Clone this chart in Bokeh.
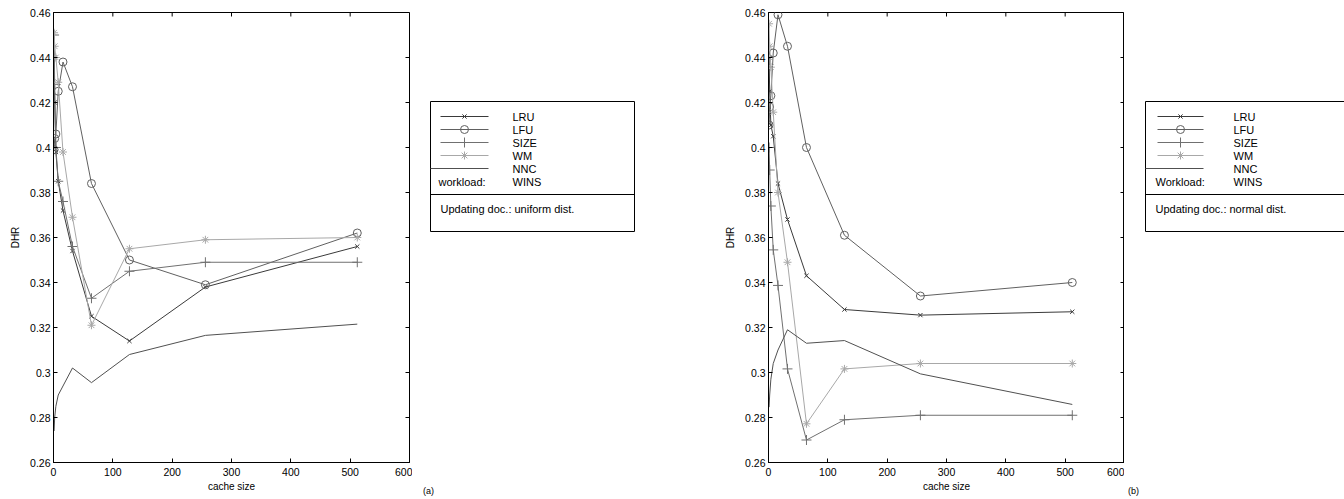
import math
from bokeh.plotting import figure
from bokeh.layouts import row
from bokeh.models import Range1d, FixedTicker, ColumnDataSource
from bokeh.core.properties import value
from bokeh.embed import file_html
from bokeh.resources import INLINE

# ---------------- data ----------------
cache_size = [1, 2, 4, 8, 16, 32, 64, 128, 256, 512]

lru_a = [0.440, 0.420, 0.398, 0.385, 0.372, 0.354, 0.325, 0.314, 0.338, 0.356]
lfu_a = [0.399, 0.404, 0.406, 0.425, 0.438, 0.427, 0.384, 0.350, 0.339, 0.362]
size_a = [0.450, 0.428, 0.400, 0.385, 0.376, 0.356, 0.333, 0.345, 0.349, 0.349]
wm_a = [0.451, 0.445, 0.440, 0.429, 0.398, 0.369, 0.321, 0.355, 0.359, 0.360]
nnc_a = [0.274, 0.280, 0.285, 0.290, 0.294, 0.302, 0.2955, 0.308, 0.3165, 0.3215]

lru_b = [0.440, 0.425, 0.410, 0.405, 0.384, 0.368, 0.343, 0.328, 0.3255, 0.327]
lfu_b = [0.410, 0.418, 0.423, 0.442, 0.459, 0.445, 0.400, 0.361, 0.334, 0.340]
size_b = [0.400, 0.390, 0.374, 0.3545, 0.3387, 0.3016, 0.270, 0.279, 0.281, 0.281]
wm_b = [0.455, 0.445, 0.4357, 0.4157, 0.380, 0.349, 0.2772, 0.3016, 0.304, 0.304]
nnc_b = [0.2846, 0.290, 0.297, 0.304, 0.310, 0.319, 0.313, 0.3142, 0.2994, 0.2858]

x_ticks = [0, 100, 200, 300, 400, 500, 600]
y_ticks = [0.26, 0.28, 0.30, 0.32, 0.34, 0.36, 0.38, 0.40, 0.42, 0.44, 0.46]
y_tick_labels = ["0.26", "0.28", "0.3", "0.32", "0.34", "0.36", "0.38", "0.4", "0.42", "0.44", "0.46"]

series_names = ["LRU", "LFU", "SIZE", "WM", "NNC"]
series_colors = ["#3a3a3a", "#606060", "#707070", "#a8a8a8", "#505050"]
series_markers = ["x", "circle", "cross", "asterisk", None]
marker_sizes = [6, 8, 10, 8, 0]

FONT = value("Liberation Sans")


def make_plot(series, border_right):
    p = figure(width=53 + 356 + border_right, height=499,
               frame_width=356, frame_height=450, title=None,
               min_border_left=53, min_border_right=border_right,
               min_border_top=12, min_border_bottom=37,
               x_range=Range1d(0, 600), y_range=Range1d(0.26, 0.46),
               output_backend="svg", toolbar_location=None)
    p.xgrid.visible = False
    p.ygrid.visible = False
    p.outline_line_color = "black"
    p.background_fill_color = "white"
    p.border_fill_color = "white"

    for ax in [p.xaxis[0], p.yaxis[0]]:
        ax.major_tick_in = 4
        ax.major_tick_out = 0
        ax.minor_tick_line_color = None
        ax.axis_line_color = "black"
        ax.major_tick_line_color = "black"
        ax.major_label_text_font = "Liberation Sans"
        ax.major_label_text_font_size = "10.5px"
        ax.major_label_text_color = "black"
        ax.axis_label_text_font = "Liberation Sans"
        ax.axis_label_text_font_size = "10px"
        ax.axis_label_text_font_style = "normal"
        ax.axis_label_text_color = "black"
    p.xaxis[0].ticker = FixedTicker(ticks=x_ticks)
    p.yaxis[0].ticker = FixedTicker(ticks=y_ticks)
    p.yaxis[0].major_label_overrides = {t: l for t, l in zip(y_ticks, y_tick_labels)}
    p.xaxis[0].axis_label = "cache size"
    p.yaxis[0].axis_label = "DHR"
    p.xaxis[0].major_label_standoff = 5
    p.xaxis[0].axis_label_standoff = 2
    p.yaxis[0].major_label_standoff = 3
    p.yaxis[0].axis_label_standoff = 6

    # box ticks on top and right edges (inward)
    p.ray(x=x_ticks, y=[0.46] * len(x_ticks), length=4, length_units="screen",
          angle=-math.pi / 2, line_color="black", line_width=1)
    p.ray(x=[600] * len(y_ticks), y=y_ticks, length=4, length_units="screen",
          angle=math.pi, line_color="black", line_width=1)

    for ys, color, marker, ms in zip(series, series_colors, series_markers, marker_sizes):
        src = ColumnDataSource(dict(x=cache_size, y=ys))
        p.line("x", "y", source=src, line_color=color, line_width=1)
        if marker is not None:
            p.scatter("x", "y", source=src, marker=marker, size=ms,
                      line_color=color, fill_color=None, line_width=1)
    return p


def make_legend(width, box_left, line_x0, line_x1, text_x, wl_x, wl_text, note, tag, tag_x):
    # frame spans page rows 12..499 (aligned with the plots' frame tops);
    # the y range is expressed in page pixels
    q = figure(width=width, height=499, frame_width=width, frame_height=487, title=None,
               min_border_left=0, min_border_right=0, min_border_top=12, min_border_bottom=0,
               x_range=Range1d(0, width), y_range=Range1d(499, 12),
               output_backend="svg", toolbar_location=None)
    q.axis.visible = False
    q.xgrid.visible = False
    q.ygrid.visible = False
    q.outline_line_color = None
    q.border_fill_color = "white"

    box_right = box_left + 204 if width > 260 else width + 20
    q.quad(left=[box_left], right=[box_right], top=[101], bottom=[231],
           fill_color=None, line_color="black", line_width=1)
    q.segment(x0=[box_left], y0=[194], x1=[box_right], y1=[194], line_color="black", line_width=1)

    row_y = [116, 129, 142, 155, 168]
    for name, color, marker, ms, yy in zip(series_names, series_colors, series_markers,
                                           marker_sizes, row_y):
        x0 = line_x0 if marker is not None else box_left
        q.segment(x0=[x0], y0=[yy], x1=[line_x1], y1=[yy], line_color=color, line_width=1)
        if marker is not None:
            q.scatter(x=[(line_x0 + line_x1) / 2], y=[yy], marker=marker, size=ms,
                      line_color=color, fill_color=None, line_width=1)
        q.text(x=[text_x], y=[yy], text=[name], text_font=FONT, text_font_size="11px",
               text_baseline="middle", text_align="left", text_color="black")
    q.text(x=[wl_x], y=[181], text=[wl_text], text_font=FONT, text_font_size="11px",
           text_baseline="middle", text_align="left", text_color="black")
    q.text(x=[text_x], y=[181], text=["WINS"], text_font=FONT, text_font_size="11px",
           text_baseline="middle", text_align="left", text_color="black")
    q.text(x=[box_left + 10], y=[208], text=[note], text_font=FONT, text_font_size="11px",
           text_baseline="middle", text_align="left", text_color="black")
    q.text(x=[tag_x], y=[490], text=[tag], text_font=FONT, text_font_size="9px",
           text_baseline="middle", text_align="center", text_color="black")
    return q


pa = make_plot([lru_a, lfu_a, size_a, wm_a, nnc_a], 3)
la = make_legend(303, 18, 28, 76, 100, 26, "workload:", "Updating doc.: uniform dist.", "(a)", 16)
pb = make_plot([lru_b, lfu_b, size_b, wm_b, nnc_b], 0)
lb = make_legend(220, 21, 33, 79, 109, 31, "Workload:", "Updating doc.: normal dist.", "(b)", 9)

layout = row(pa, la, pb, lb, spacing=0)
open("out.html", "w").write(file_html(layout, INLINE))
